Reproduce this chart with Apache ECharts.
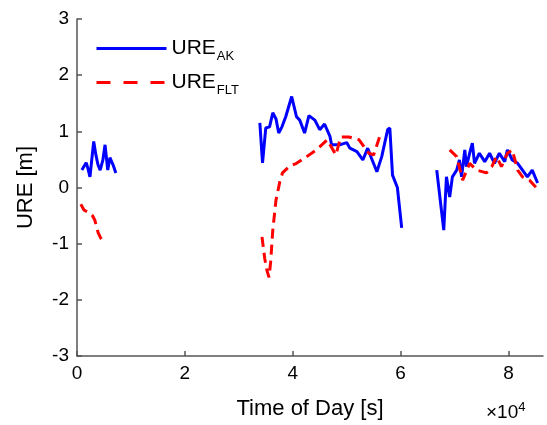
<!DOCTYPE html>
<html>
<head>
<meta charset="utf-8">
<script src="https://cdn.jsdelivr.net/npm/echarts@6/dist/echarts.min.js"></script>
<style>
  html, body { margin: 0; padding: 0; background: #fff; }
  #chart { width: 547px; height: 425px; }
</style>
</head>
<body>
<div id="chart"></div>
<script>
// time of day [s] and URE [m], one pair of arrays per data arc
var akTime1 = [900, 1700, 2000, 2400, 3100, 3500, 3900, 4300, 4800, 5200, 5700, 6100, 6700, 7200];
var akUre1  = [0.31, 0.44, 0.35, 0.19, 0.82, 0.58, 0.40, 0.31, 0.49, 0.76, 0.31, 0.53, 0.40, 0.26];

var akTime2 = [33900, 34400, 35000, 35700, 36300, 36900, 37400, 38000, 38700, 39800, 40700, 41300,
               42200, 43000, 44100, 45000, 45900, 46900, 47200, 48700, 50000, 50600, 51900, 53000,
               53900, 54600, 55600, 56500, 57600, 58000, 58500, 59400, 60200];
var akUre2  = [1.15, 0.44, 1.06, 1.08, 1.33, 1.22, 0.97, 1.08, 1.26, 1.62, 1.26, 1.20,
               0.97, 1.28, 1.20, 1.03, 1.13, 0.91, 0.76, 0.76, 0.80, 0.70, 0.64, 0.49,
               0.70, 0.52, 0.28, 0.55, 1.03, 1.06, 0.22, 0.00, -0.72];

var akTime3 = [66700, 68000, 68500, 69100, 69600, 70400, 70900, 71300, 71900, 72200, 72800, 73300,
               73700, 74600, 75600, 76500, 77400, 78300, 79300, 79800, 80700, 81700, 82600, 83500,
               84400, 85400];
var akUre3  = [0.31, -0.76, 0.19, -0.17, 0.19, 0.31, 0.49, 0.19, 0.67, 0.37, 0.61, 0.79,
               0.43, 0.61, 0.46, 0.61, 0.43, 0.61, 0.46, 0.67, 0.49, 0.43, 0.31, 0.19,
               0.31, 0.08];

var fltTime1 = [700, 1300, 2000, 2800, 3300, 3900, 4400, 5200];
var fltUre1  = [-0.30, -0.40, -0.44, -0.49, -0.58, -0.80, -0.90, -1.00];

var fltTime2 = [34300, 34800, 35200, 35600, 35900, 36300, 36900, 37600, 38100, 39400, 40700, 42600,
                44400, 46400, 48000, 48900, 50400, 52300, 54100, 55000, 56100, 56300];
var fltUre2  = [-0.88, -1.26, -1.47, -1.60, -1.33, -0.76, -0.22, 0.10, 0.26, 0.38, 0.43, 0.55,
                0.67, 0.85, 0.58, 0.90, 0.90, 0.85, 0.61, 0.58, 0.90, 0.93];

var fltTime3 = [69100, 70400, 71500, 72800, 74100, 75900, 76900, 77800, 78700, 79800, 80700, 81700,
                82600, 83900, 85200];
var fltUre3  = [0.67, 0.55, 0.13, 0.43, 0.31, 0.26, 0.37, 0.55, 0.37, 0.61, 0.67, 0.31,
                0.19, 0.13, -0.01];

var xTicks = [0, 20000, 40000, 60000, 80000];
var yTicks = [-3, -2, -1, 0, 1, 2, 3];

// join arcs with a gap so the line breaks between passes
function arcs(times, values) {
    var out = [];
    for (var i = 0; i < times.length; i++) {
        if (i > 0) out.push([times[i][0] - 1, '-']);
        for (var j = 0; j < times[i].length; j++) {
            out.push([times[i][j], values[i][j]]);
        }
    }
    return out;
}

var chart = echarts.init(document.getElementById('chart'));
var axisColor = '#555';
var font = 'Liberation Sans, Arial, sans-serif';

var option = {
    animation: false,
    grid: { left: 77, right: 4, top: 19, bottom: 69 },
    legend: {
        orient: 'vertical',
        left: 90,
        top: 33,
        itemWidth: 70,
        itemHeight: 14,
        itemGap: 9,
        itemStyle: { opacity: 0 },
        formatter: function (name) {
            return name === 'AK' ? 'URE{sub|AK}' : 'URE{sub|FLT}';
        },
        textStyle: {
            fontFamily: font, fontSize: 21, color: '#000',
            rich: {
                sub: { fontFamily: font, fontSize: 13, color: '#000', verticalAlign: 'bottom', padding: [16, 0, 0, 1] }
            }
        },
        data: [
            { name: 'AK', lineStyle: { color: '#0000ff', width: 3 } },
            { name: 'FLT', lineStyle: { color: '#ff0000', width: 3, type: [14, 13] } }
        ]
    },
    xAxis: {
        type: 'value',
        min: 0,
        max: 86400,
        interval: 20000,
        name: 'Time of Day [s]',
        nameLocation: 'middle',
        nameGap: 42,
        nameTextStyle: { fontFamily: font, fontSize: 22, color: '#000' },
        axisLine: { onZero: false, lineStyle: { color: axisColor, width: 1.5 } },
        axisTick: { inside: true, length: 5, lineStyle: { color: axisColor, width: 1.5 } },
        axisLabel: {
            fontFamily: font, fontSize: 19, color: '#000', margin: 8,
            showMaxLabel: false,
            formatter: function (v) { return xTicks.indexOf(v) >= 0 ? String(v / 10000) : ''; }
        },
        splitLine: { show: false }
    },
    yAxis: {
        type: 'value',
        min: yTicks[0],
        max: yTicks[yTicks.length - 1],
        interval: 1,
        name: 'URE [m]',
        nameLocation: 'middle',
        nameGap: 40,
        nameTextStyle: { fontFamily: font, fontSize: 22, color: '#000' },
        axisLine: { show: true, onZero: false, lineStyle: { color: axisColor, width: 1.5 } },
        axisTick: { show: true, inside: true, length: 5, lineStyle: { color: axisColor, width: 1.5 } },
        axisLabel: { fontFamily: font, fontSize: 19, color: '#000', margin: 8 },
        splitLine: { show: false }
    },
    graphic: [{
        type: 'text',
        left: 486,
        top: 401,
        style: {
            text: '×10{sup|4}',
            fontFamily: font,
            fontSize: 19,
            fill: '#000',
            rich: { sup: { fontFamily: font, fontSize: 13, verticalAlign: 'top', padding: [0, 0, 10, 0] } }
        }
    }],
    series: [
        {
            name: 'AK',
            type: 'line',
            symbol: 'none',
            connectNulls: false,
            lineStyle: { color: '#0000ff', width: 3 },
            itemStyle: { color: '#0000ff' },
            data: arcs([akTime1, akTime2, akTime3], [akUre1, akUre2, akUre3])
        },
        {
            name: 'FLT',
            type: 'line',
            symbol: 'none',
            connectNulls: false,
            lineStyle: { color: '#ff0000', width: 3, type: [10, 6] },
            itemStyle: { color: '#ff0000' },
            data: arcs([fltTime1, fltTime2, fltTime3], [fltUre1, fltUre2, fltUre3])
        }
    ]
};
chart.setOption(option);
</script>
</body>
</html>
